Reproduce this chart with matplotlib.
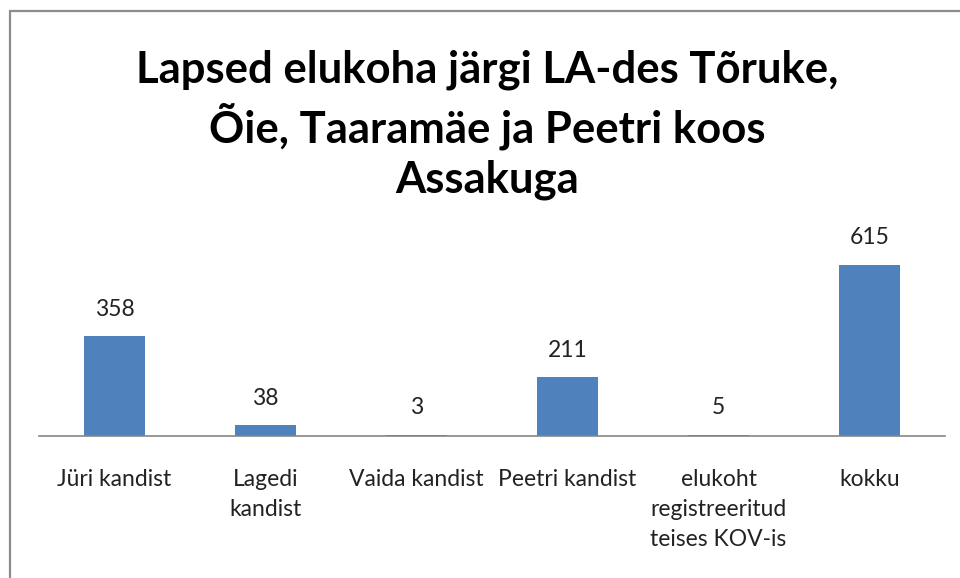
import matplotlib.pyplot as plt
from matplotlib.patches import Rectangle

# Andmed
categories = ["Jüri kandist", "Lagedi\nkandist", "Vaida kandist", "Peetri kandist",
              "elukoht\nregistreeritud\nteises KOV-is", "kokku"]
values = [358, 38, 3, 211, 5, 615]
title = "Lapsed elukoha järgi LA-des Tõruke,\nÕie, Taaramäe ja Peetri koos\nAssakuga"

W, H = 960, 578
fig = plt.figure(figsize=(W / 100, H / 100), dpi=100)
plt.rcParams['font.family'] = ['Lato', 'DejaVu Sans']

# raam ümber diagrammi
fig.patches.append(Rectangle((10 / W, -0.1), 1.2, 1 - 11 / H + 0.1, transform=fig.transFigure,
                             fill=False, edgecolor='#8c8c8c', linewidth=1.6))

ax = fig.add_axes([39 / W, (H - 436) / H, (945 - 39) / W, (436 - 241) / H])
x = range(len(categories))
ax.bar(x, values, width=0.4, color='#4F81BD')
for xi, v in zip(x, values):
    ax.annotate(str(v), (xi, v), xytext=(0, 12), textcoords='offset points',
                ha='center', va='bottom', fontsize=16.5, color='#222222')

ax.set_xlim(-0.5, len(categories) - 0.5)
ax.set_ylim(0, 700)
ax.set_xticks(list(x))
ax.set_xticklabels(categories, fontsize=16.5, color='#222222', linespacing=1.55)
ax.tick_params(axis='x', length=0, pad=23.5)
ax.set_yticks([])
for s in ['top', 'right', 'left']:
    ax.spines[s].set_visible(False)
ax.spines['bottom'].set_color('#868686')
ax.spines['bottom'].set_linewidth(1.2)

fig.text(487 / W, 1 - 125 / H, title, ha='center', va='center', fontsize=31.4,
         fontweight='bold', linespacing=1.3, color='black')

fig.savefig("out.png", dpi=100)
